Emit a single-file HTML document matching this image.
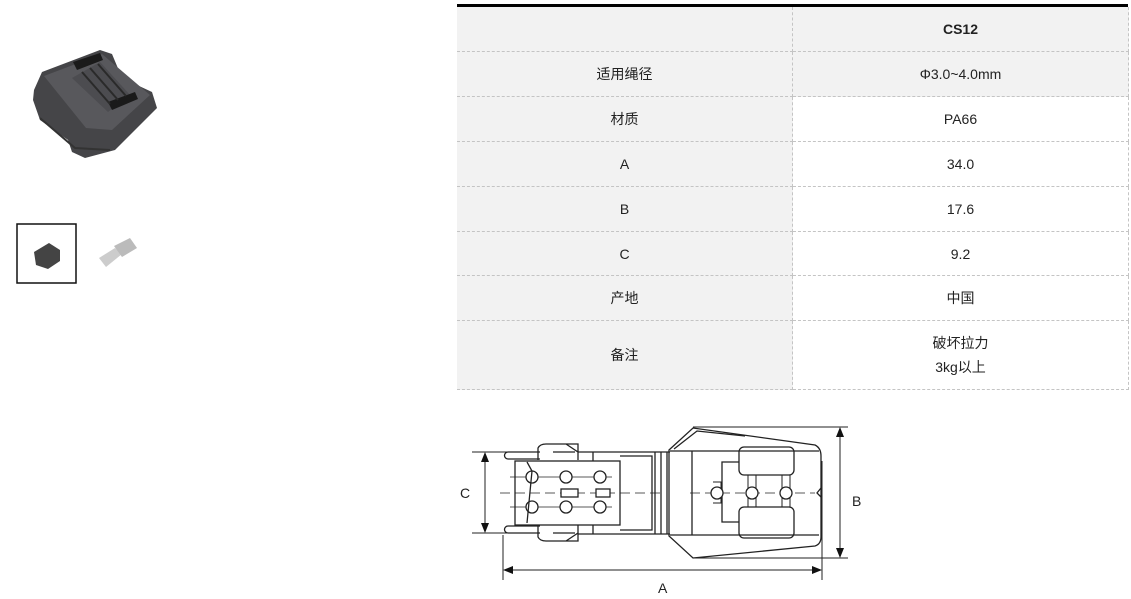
<!DOCTYPE html>
<html><head><meta charset="utf-8"><style>
body{margin:0;width:1131px;height:599px;background:#fff;position:relative;overflow:hidden;font-family:"Liberation Sans","Noto Sans CJK SC",sans-serif;color:#222;}
.c{position:absolute;display:flex;align-items:center;justify-content:center;font-size:14px;box-sizing:border-box;border-right:1px dashed #c4c4c4;border-bottom:1px dashed #c4c4c4;text-align:center;line-height:24px}
.g{background:#f2f2f2}
</style></head><body>
<!-- product image -->
<svg style="position:absolute;left:0;top:0" width="200" height="300">
<path d="M34,90 L42,72 L100,50 L112,54 L122,78 L152,92 L157,108 L115,150 L85,158 L72,152 L68,140 L40,120 L33,100Z" fill="#454548"/>
<path d="M44,76 L102,54 L150,95 L112,130 L86,128Z" fill="#58585c"/>
<path d="M72,78 L100,62 L130,95 L108,112Z" fill="#4c4c50"/>
<path d="M73,62 L100,53 L103,60 L77,70Z" fill="#1a1a1a"/>
<path d="M108,102 L135,92 L138,99 L112,110Z" fill="#1a1a1a"/>
<path d="M82,72 L110,104 M90,68 L118,100 M98,64 L126,96" stroke="#2a2a2a" stroke-width="2"/>
<path d="M40,118 L75,148 L110,150" stroke="#333" stroke-width="2" fill="none"/>
<rect x="17" y="224" width="59" height="59" fill="none" stroke="#111" stroke-width="1.5"/>
<path d="M34,252 L49,243 L60,250 L60,261 L48,269 L36,265Z" fill="#444"/>
<path d="M99,258 L115,248 L122,254 L106,267Z" fill="#ccc"/>
<path d="M114,246 L130,238 L137,248 L122,257Z" fill="#bbb"/>
</svg>
<!-- table -->
<div style="position:absolute;left:457px;top:4px;width:671px;height:3px;background:#000"></div>
<div style="position:absolute;left:457px;top:7px;width:1px;height:382px;border-left:1px dashed #c4c4c4"></div>
<div class="c g" style="left:457px;top:7px;width:336px;height:45px"></div>
<div class="c g" style="left:793px;top:7px;width:336px;height:45px;font-weight:bold">CS12</div>
<div class="c g" style="left:457px;top:52px;width:336px;height:45px">适用绳径</div>
<div class="c g" style="left:793px;top:52px;width:336px;height:45px">Φ3.0~4.0mm</div>
<div class="c g" style="left:457px;top:97px;width:336px;height:45px">材质</div>
<div class="c" style="left:793px;top:97px;width:336px;height:45px">PA66</div>
<div class="c g" style="left:457px;top:142px;width:336px;height:45px">A</div>
<div class="c" style="left:793px;top:142px;width:336px;height:45px">34.0</div>
<div class="c g" style="left:457px;top:187px;width:336px;height:45px">B</div>
<div class="c" style="left:793px;top:187px;width:336px;height:45px">17.6</div>
<div class="c g" style="left:457px;top:232px;width:336px;height:44px">C</div>
<div class="c" style="left:793px;top:232px;width:336px;height:44px">9.2</div>
<div class="c g" style="left:457px;top:276px;width:336px;height:45px">产地</div>
<div class="c" style="left:793px;top:276px;width:336px;height:45px">中国</div>
<div class="c g" style="left:457px;top:321px;width:336px;height:69px">备注</div>
<div class="c" style="left:793px;top:321px;width:336px;height:69px">破坏拉力<br>3kg以上</div>
<!-- drawing -->
<svg style="position:absolute;left:0;top:0" width="1131" height="599" fill="none" stroke="#222" stroke-width="1.3">
<path d="M508,452 L540,452 M508,459 L540,459 M508,452 A3.5,3.5 0 0 0 508,459 M508,533 L540,533 M508,526 L540,526 M508,526 A3.5,3.5 0 0 0 508,533"/>
<path d="M538,460 L538,448 Q540,444 546,444 L578,444 L578,460 M566,444 L578,452 L578,444 M553,452 L575,452"/>
<path d="M538,525 L538,537 Q540,541 546,541 L578,541 L578,525 M566,541 L578,533 M553,533 L575,533"/>
<rect x="515" y="461" width="105" height="64"/>
<path d="M578,452 L670,452 M578,534 L670,534 M593,452 L593,461 M593,525 L593,534 M620,456 L652,456 L652,530 L620,530 M655,452 L655,534 M661,452 L661,534 M667,452 L667,534"/>
<path d="M510,477 L612,477 M510,507 L612,507" stroke-width="0.8"/>
<path d="M500,493 L660,493 M690,493 L815,493" stroke-dasharray="10,5" stroke-width="0.8"/>
<circle cx="532" cy="477" r="6" fill="#fff"/><circle cx="566" cy="477" r="6" fill="#fff"/><circle cx="600" cy="477" r="6" fill="#fff"/>
<circle cx="532" cy="507" r="6" fill="#fff"/><circle cx="566" cy="507" r="6" fill="#fff"/><circle cx="600" cy="507" r="6" fill="#fff"/>
<rect x="561" y="489" width="17" height="8" fill="#fff"/><rect x="596" y="489" width="14" height="8" fill="#fff"/>
<path d="M527,462 L532,471 L527,523"/>
<path d="M669,450 L693,428 L815,445 Q821,448 821,456 L821,537 Q821,544 815,546 L693,558 L669,536Z"/>
<path d="M670,451 L819,451 M670,535 L819,535 M692,451 L692,535 M674,449 L697,431 L745,436"/>
<rect x="739" y="447" width="55" height="28" rx="5"/>
<rect x="739" y="507" width="55" height="31" rx="5"/>
<path d="M739,462 L722,462 L722,522 L739,522"/>
<path d="M713,482 L721,482 L721,503 L713,503 M748,475 L748,507 M756,475 L756,507 M782,475 L782,507 M790,475 L790,507" stroke-width="1"/>
<circle cx="717" cy="493" r="6" fill="#fff"/><circle cx="752" cy="493" r="6" fill="#fff"/><circle cx="786" cy="493" r="6" fill="#fff"/>
<path d="M821,488 L817,493 L821,497"/>
<!-- dims -->
<path d="M472,452 L508,452 M472,533 L508,533 M485,456 L485,529 M693,427 L848,427 M693,558 L848,558 M840,432 L840,553 M503,535 L503,580 M822,461 L822,580 M508,570 L817,570" stroke-width="1"/>
<path d="M485,452 L481,462 L489,462Z M485,533 L481,523 L489,523Z M840,427 L836,437 L844,437Z M840,558 L836,548 L844,548Z M503,570 L513,566 L513,574Z M822,570 L812,566 L812,574Z" fill="#111" stroke="none"/>
<g fill="#222" stroke="none" font-family="Liberation Sans, sans-serif" font-size="14">
<text x="460" y="498">C</text><text x="852" y="506">B</text><text x="658" y="593">A</text></g>
</svg>
</body></html>
